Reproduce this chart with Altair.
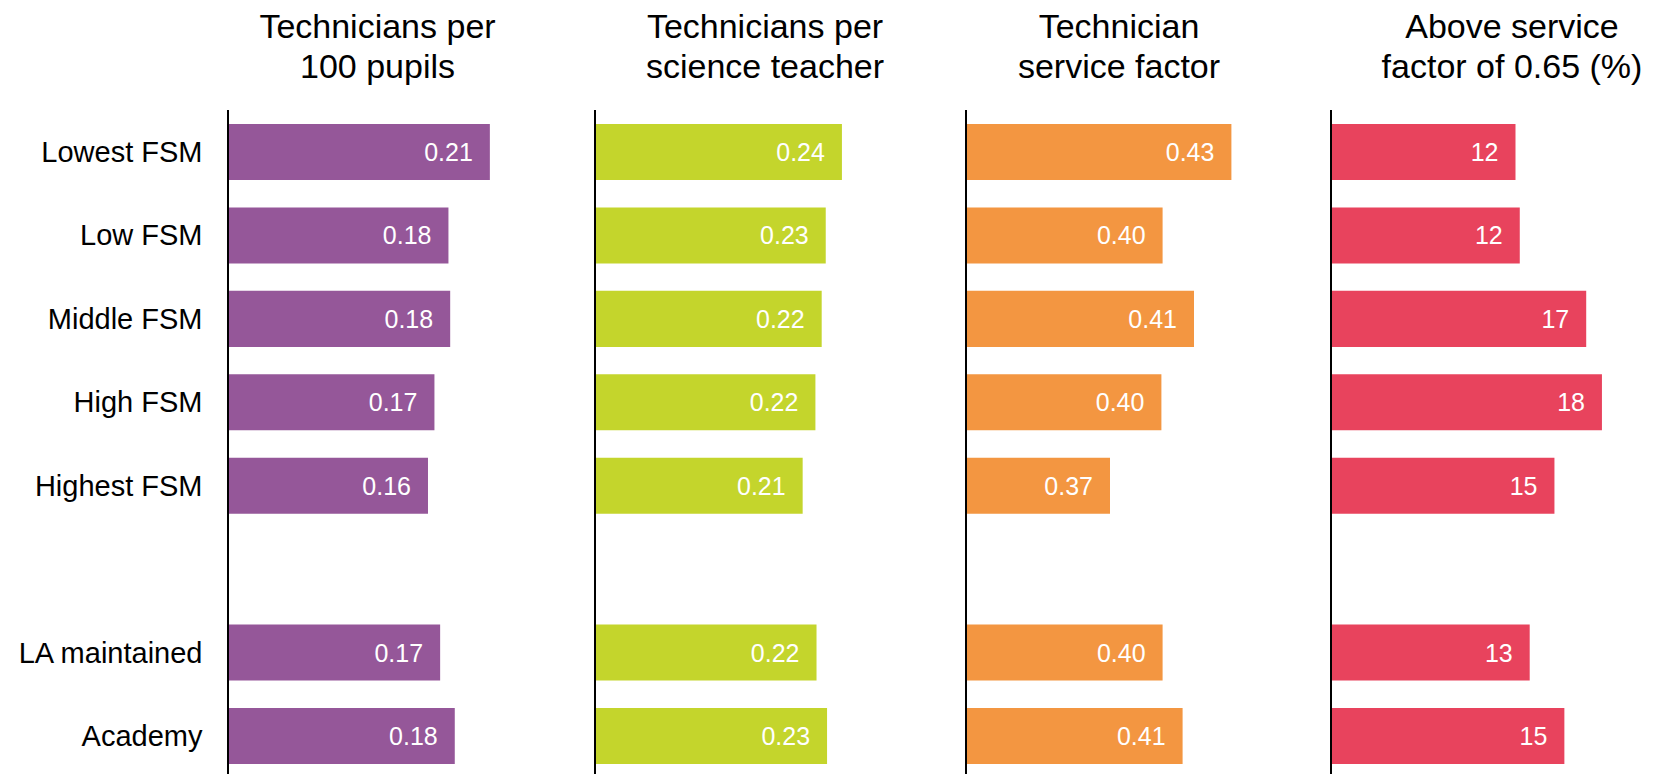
import altair as alt
import pandas as pd

# ---- data ----
categories = ["Lowest FSM", "Low FSM", "Middle FSM", "High FSM", "Highest FSM",
              "LA maintained", "Academy"]
row_order = ["Lowest FSM", "Low FSM", "Middle FSM", "High FSM", "Highest FSM",
             " ", "LA maintained", "Academy"]

per_100_pupils = [0.2112, 0.1778, 0.1792, 0.1665, 0.1613, 0.1711, 0.1829]
per_science_teacher = [0.244, 0.228, 0.224, 0.2178, 0.2052, 0.2189, 0.2293]
service_factor = [0.4327, 0.3983, 0.414, 0.3977, 0.372, 0.3983, 0.4083]
above_065_pct = [12.08, 12.36, 16.71, 17.74, 14.63, 13.01, 15.28]

series = [per_100_pupils, per_science_teacher, service_factor, above_065_pct]
titles = [["Technicians per", "100 pupils"],
          ["Technicians per", "science teacher"],
          ["Technician", "service factor"],
          ["Above service", "factor of 0.65 (%)"]]
formats = [".2f", ".2f", ".2f", ".0f"]

# ---- styling / layout ----
colors = ["#955799", "#C4D52C", "#F39641", "#E8435D"]
widths = [367, 371, 365, 305]
domains = [(0, 0.296), (0, 0.3666), (0.3, 0.4825), (0, 19.97)]
title_dx = [-34, -15.5, -29.5, 28.5]
H = 666
FONT = "Liberation Sans"


def panel(i):
    df = pd.DataFrame({"group": categories, "value": series[i]})
    lo, hi = domains[i]
    if i == 0:
        yaxis = alt.Axis(title=None, domain=False, ticks=False, labelFontSize=29,
                         labelFont=FONT, labelColor="#000000", labelPadding=26,
                         labelLimit=400, labelOffset=1)
    else:
        yaxis = None
    yenc = alt.Y("group:N",
                 scale=alt.Scale(domain=row_order, range=[0, 668],
                                 paddingInner=0.3285, paddingOuter=0.168),
                 axis=yaxis)
    xenc = alt.X("value:Q",
                 scale=alt.Scale(domain=[lo, hi], zero=False, nice=False),
                 axis=None)
    base = alt.Chart(df)
    bars = base.mark_bar(color=colors[i], clip=True).encode(
        x=xenc, x2=alt.X2(datum=lo), y=yenc)
    labels = base.mark_text(align="right", baseline="middle", dx=-17, dy=1,
                            fontSize=25, font=FONT, color="white").encode(
        x=xenc, y=yenc, text=alt.Text("value:Q", format=formats[i]))
    rule = alt.Chart(pd.DataFrame({"a": [0]})).mark_rule(
        color="#000000", strokeWidth=2).encode(
        x=alt.value(0), y=alt.value(0), y2=alt.value(H))
    return alt.layer(bars, rule, labels).properties(
        width=widths[i], height=H,
        title=alt.TitleParams(text=titles[i], fontSize=34, font=FONT,
                              fontWeight="normal", color="#000000",
                              anchor="middle", baseline="bottom",
                              dx=title_dx[i], offset=-9.5, lineHeight=40))


chart = alt.hconcat(*[panel(i) for i in range(4)], spacing=0, bounds="flush").properties(
    padding={"left": 8, "top": 2, "right": 0, "bottom": 0}
).configure_view(stroke=None)

chart.save("out.html", embed_options={"renderer": "svg", "actions": False})
